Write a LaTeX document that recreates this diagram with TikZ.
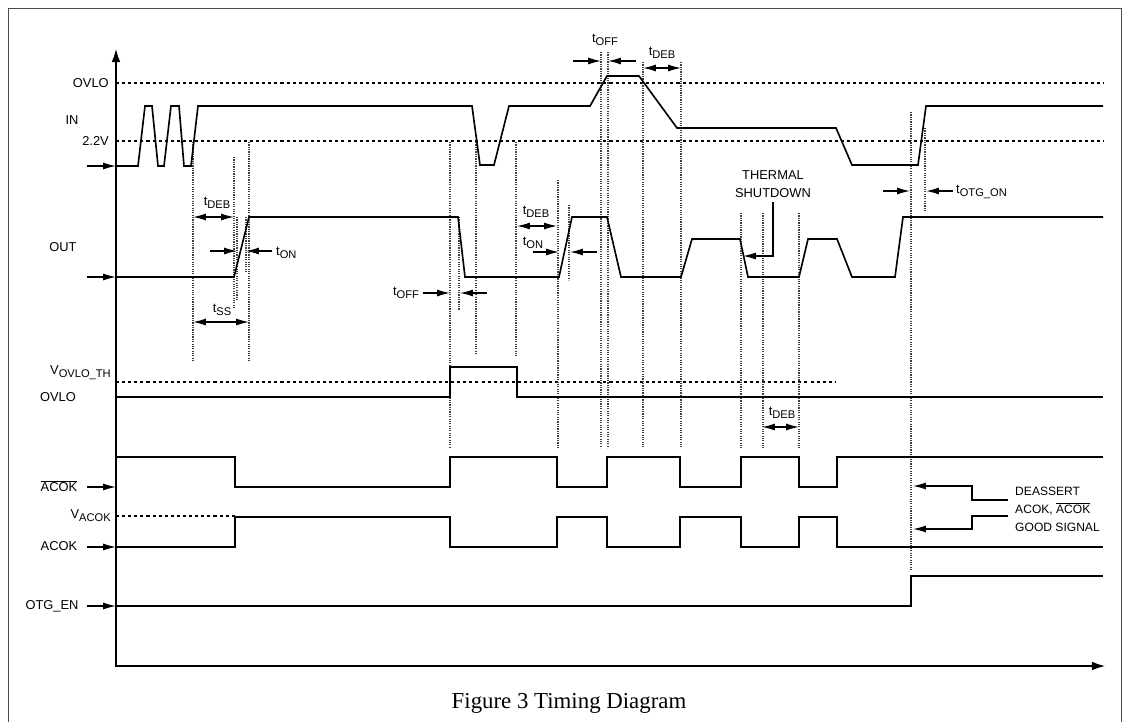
\documentclass[tikz,border=0pt]{standalone}
\usepackage{fontspec}
\setmainfont{Liberation Serif}
\setsansfont{Liberation Sans}
\usepackage{tikz}
\usetikzlibrary{arrows.meta}

\newcommand{\tsub}[2]{#1\raisebox{-0.45ex}{\fontsize{9.5}{10}\selectfont #2}}
\newcommand{\barok}{$\overline{\mbox{ACOK}}$}

\begin{document}
\begin{tikzpicture}[x=0.03cm, y=-0.03cm,
    >={Latex[length=11pt,width=6pt]},
    wave/.style={line width=1.4pt, line join=miter},
    axis/.style={line width=2.2pt, {Latex[length=12pt,width=7.5pt]}-{Latex[length=12pt,width=7.5pt]}},
    thr/.style={line width=1pt, dash pattern=on 2.6pt off 2.6pt},
    guide/.style={line width=1pt, densely dotted, black!75},
    pin/.style={line width=1.1pt, ->},
    span/.style={line width=1.1pt, <->},
    lab/.style={font=\sffamily\fontsize{11}{12}\selectfont, inner sep=0pt, align=center}]
    \useasboundingbox (0,0) rectangle (1123,722);
    \draw[black!70, line width=0.8pt] (8,722) -- (8,8) -- (1121,8) -- (1121,722);

    % axes
    \draw[axis] (116,48) -- (116,666) -- (1106,666);

    % signal names
    \node[lab, anchor=east] (ovtop) at (109,83) {OVLO};
    \node[lab] (in) at (72,120) {IN};
    \node[lab, anchor=east] (v22) at (109,141) {2.2V};
    \node[lab] (out) at (63,247) {OUT};
    \node[lab, anchor=east] (vth) at (111,373) {\tsub{V}{OVLO\_TH}};
    \node[lab] (ovlo) at (58,397) {OVLO};
    \node[lab] (acb) at (59,486) {\barok};
    \node[lab, anchor=east] (vac) at (111,516) {\tsub{V}{ACOK}};
    \node[lab] (acok) at (59,546) {ACOK};
    \node[lab] (otg) at (52,606) {OTG\_EN};
    \foreach \y in {166,277,487,547,606}
        \draw[pin] (87,\y) -- (116,\y);

    % thresholds
    \draw[thr] (116,83) -- (1103,83);
    \draw[thr] (116,141) -- (1103,141);
    \draw[thr] (116,382) -- (836,382);
    \draw[thr] (116,516) -- (235,516);

    % timing guides
    \foreach \x/\a/\b in {193/142/360, 234/157/307, 237/217/300, 246/217/273, 249/142/360,
        450/142/448, 459/217/310, 476/142/353, 516/142/357, 558/180/448, 569/205/280,
        601/52/448, 608/52/448, 643/62/448, 681/62/448, 741/213/448, 763/213/448,
        799/213/448, 911/112/570, 925/128/212}
        \draw[guide] (\x,\a) -- (\x,\b);

    % waveforms
    \draw[wave] (116,166) -- (138,166) -- (145,106) -- (152,106) -- (158,166) -- (164,166)
        -- (171,106) -- (179,106) -- (184,166) -- (191,166) -- (198,106) -- (472,106)
        -- (480,165) -- (494,165) -- (509,106) -- (590,106) -- (607,76) -- (639,76)
        -- (677,128) -- (836,128) -- (852,165) -- (918,165) -- (926,106) -- (1103,106);
    \draw[wave] (116,277) -- (234,277) -- (249,217) -- (458,217) -- (465,277) -- (559,277)
        -- (572,217) -- (607,217) -- (621,277) -- (681,277) -- (692,239) -- (740,239)
        -- (748,277) -- (799,277) -- (808,239) -- (837,239) -- (852,277) -- (895,277)
        -- (903,217) -- (1103,217);
    \draw[wave] (116,397) -| (450,367) -| (517,397) -- (1103,397);
    \draw[wave] (116,457) -| (235,487) -| (450,457) -| (557,487) -| (607,457) -| (680,487)
        -| (741,457) -| (799,487) -| (837,457) -- (1103,457);
    \draw[wave] (116,547) -| (235,517) -| (450,547) -| (557,517) -| (607,547) -| (680,517)
        -| (741,547) -| (799,517) -| (837,547) -- (1103,547);
    \draw[wave] (116,606) -| (911,576) -- (1103,576);

    % delays
    \node[lab] (deb1) at (217,203) {\tsub{t}{DEB}};
    \draw[span] (193,217) -- (234,217);
    \draw[pin] (210,251) -- (237,251);
    \draw[pin] (272,251) -- (246,251);
    \node[lab, anchor=west] (on1) at (276,253) {\tsub{t}{ON}};
    \node[lab] (ss) at (222,310) {\tsub{t}{SS}};
    \draw[span] (193,322) -- (249,322);
    \node[lab] (off1) at (406,293) {\tsub{t}{OFF}};
    \draw[pin] (423,293) -- (450,293);
    \draw[pin] (487,293) -- (460,293);
    \node[lab] (deb2) at (536,212) {\tsub{t}{DEB}};
    \draw[span] (517,226) -- (557,226);
    \node[lab] (on2) at (533,243) {\tsub{t}{ON}};
    \draw[pin] (533,252) -- (559,252);
    \draw[pin] (597,252) -- (570,252);
    \node[lab] (off2) at (605,40) {\tsub{t}{OFF}};
    \draw[pin] (573,61) -- (601,61);
    \draw[pin] (636,61) -- (608,61);
    \node[lab] (deb3) at (662,53) {\tsub{t}{DEB}};
    \draw[span] (643,68) -- (681,68);
    \node[lab] (deb4) at (782,413) {\tsub{t}{DEB}};
    \draw[span] (762,427) -- (799,427);
    \draw[pin] (883,191) -- (910,191);
    \draw[pin] (953,191) -- (926,191);
    \node[lab, anchor=west] (otgon) at (956,192) {\tsub{t}{OTG\_ON}};

    % notes
    \node[lab, font=\sffamily\fontsize{11}{15.5}\selectfont] (shut) at (773,184) {THERMAL\\SHUTDOWN};
    \draw[pin] (shut.south) ++(0,4) |- (743,256);
    \node[lab, anchor=west, align=left, font=\sffamily\fontsize{10.3}{15.5}\selectfont] (deas) at (1015,509)
        {DEASSERT\\ACOK, \barok\\GOOD SIGNAL};
    \draw[pin] (1008,500) -- (972,500) |- (913,486);
    \draw[pin] (1008,516) -- (972,516) |- (913,529);

    \node[font=\fontsize{19.5}{22}\selectfont, inner sep=0pt] (cap) at (569,703) {Figure 3 Timing Diagram};
\end{tikzpicture}
\end{document}
